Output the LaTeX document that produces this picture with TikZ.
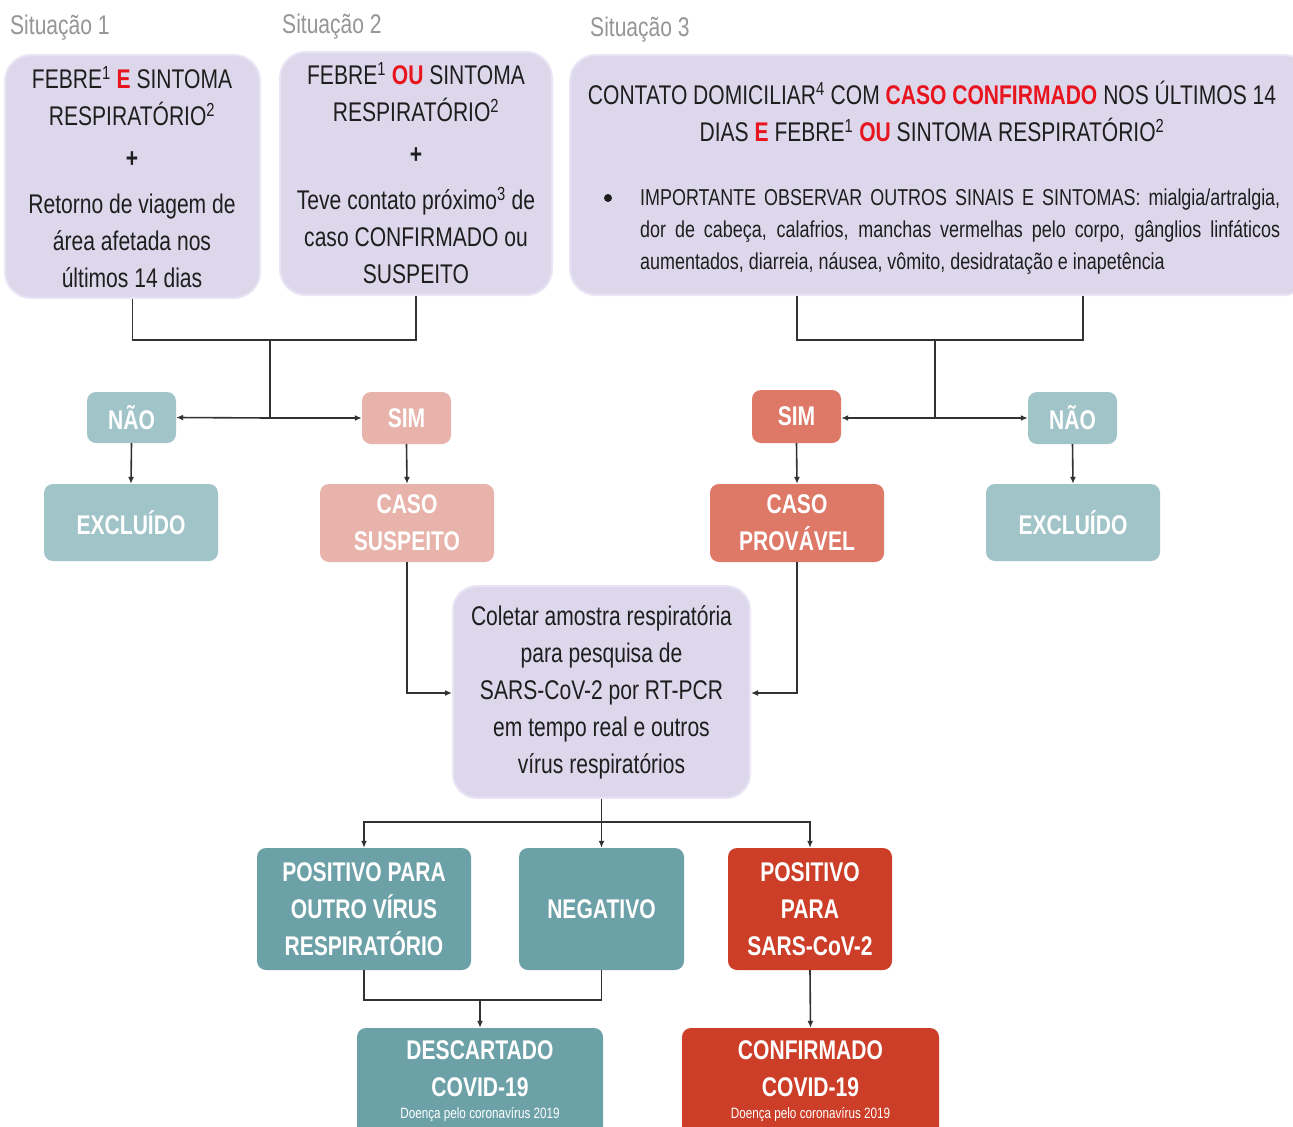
\documentclass[tikz,border=0pt]{standalone}
\usepackage{fontspec}
\setmainfont[FakeStretch=0.78]{Liberation Sans}
\usetikzlibrary{arrows.meta}
\definecolor{lav}{RGB}{221,215,236}
\definecolor{lavedge}{RGB}{233,229,245}
\definecolor{tealL}{RGB}{161,196,201}
\definecolor{tealD}{RGB}{109,161,168}
\definecolor{pinkL}{RGB}{232,179,171}
\definecolor{salmon}{RGB}{222,121,103}
\definecolor{redD}{RGB}{205,62,40}
\definecolor{hl}{RGB}{232,20,30}
\definecolor{ln}{RGB}{50,50,50}
\definecolor{sit}{RGB}{150,150,150}
\definecolor{txt}{RGB}{30,30,30}
\newcommand{\hlt}[1]{{\color{hl}\bfseries #1}}
\begin{document}
\begin{tikzpicture}[x=1pt,y=-1pt,
  lavbox/.style={rectangle,rounded corners=26pt,fill=lav,draw=lavedge,line width=2pt,inner sep=0pt},
  cbox/.style={rectangle,rounded corners=9pt,inner sep=0pt,text=white,align=center,
     font=\fontsize{27}{37}\selectfont\bfseries},
  ltxt/.style={align=center,text=txt,font=\fontsize{27}{37}\selectfont},
  sitlab/.style={text=sit,font=\fontsize{27}{30}\selectfont,anchor=west,inner sep=0pt},
  conn/.style={draw=ln,line width=1.6pt},
  arr/.style={conn,-{Latex[length=7pt,width=6pt]}},
  tinytxt/.style={text=white,font=\fontsize{15}{16}\selectfont}
]
\clip (0,0) rectangle (1293,1127);
\fill[white] (0,0) rectangle (1293,1127);

% labels
\node[sitlab] (s1) at (10,28) {Situação 1};
\node[sitlab] (s2) at (282,27) {Situação 2};
\node[sitlab] (s3) at (590,30) {Situação 3};

% top boxes
\node[lavbox,minimum width=255,minimum height=243] (b1) at (132.5,176.5) {};
\node[ltxt] (b1t) at (132,177) {FEBRE\textsuperscript{1} \hlt{E} SINTOMA\\RESPIRATÓRIO\textsuperscript{2}\\[5pt]{\bfseries +}\\[9pt]Retorno de viagem de\\área afetada nos\\últimos 14 dias};
\node[lavbox,minimum width=272,minimum height=243] (b2) at (416,173.5) {};
\node[ltxt] (b2t) at (416,173) {FEBRE\textsuperscript{1} \hlt{OU} SINTOMA\\RESPIRATÓRIO\textsuperscript{2}\\[5pt]{\bfseries +}\\[9pt]Teve contato próximo\textsuperscript{3} de\\caso CONFIRMADO ou\\SUSPEITO};
\node[lavbox,minimum width=740,minimum height=240] (b3) at (940,175) {};
\node[ltxt] (b3t) at (932,111) {CONTATO DOMICILIAR\textsuperscript{4} COM \hlt{CASO CONFIRMADO} NOS ÚLTIMOS 14\\DIAS \hlt{E} FEBRE\textsuperscript{1} \hlt{OU} SINTOMA RESPIRATÓRIO\textsuperscript{2}};
\fill[txt] (608,198) circle (4pt);
\node[anchor=north west,inner sep=0pt,text width=640pt,align=justify,text=txt,
  font=\fontsize{23}{32}\selectfont] (b3b) at (640,189)
  {IMPORTANTE OBSERVAR OUTROS SINAIS E SINTOMAS: mialgia/artralgia,\linebreak dor de cabeça, calafrios, manchas vermelhas pelo corpo, gânglios linfáticos\linebreak aumentados, diarreia, náusea, vômito, desidratação e inapetência};

% decision boxes left
\node[cbox,fill=tealL,minimum width=89,minimum height=51] (nao1) at (131.5,417.5) {NÃO};
\node[cbox,fill=pinkL,minimum width=89,minimum height=52] (sim1) at (406.5,418) {SIM};
\node[cbox,fill=tealL,minimum width=174,minimum height=77] (exc1) at (131,522.5) {EXCLUÍDO};
\node[cbox,fill=pinkL,minimum width=174,minimum height=78] (susp) at (407,523) {CASO\\SUSPEITO};

% decision boxes right
\node[cbox,fill=salmon,minimum width=89,minimum height=53] (sim2) at (796.5,416.5) {SIM};
\node[cbox,fill=tealL,minimum width=89,minimum height=52] (nao2) at (1072.5,418) {NÃO};
\node[cbox,fill=salmon,minimum width=174,minimum height=78] (prov) at (797,523) {CASO\\PROVÁVEL};
\node[cbox,fill=tealL,minimum width=174,minimum height=77] (exc2) at (1073,522.5) {EXCLUÍDO};

% collect box
\node[lavbox,rounded corners=24pt,minimum width=297,minimum height=212,ltxt] (col) at (601.5,692) {Coletar amostra respiratória\\para pesquisa de\\SARS-CoV-2 por RT-PCR\\em tempo real e outros\\vírus respiratórios};

% results
\node[cbox,fill=tealD,minimum width=214,minimum height=122] (pos1) at (364,909) {POSITIVO PARA\\OUTRO VÍRUS\\RESPIRATÓRIO};
\node[cbox,fill=tealD,minimum width=165,minimum height=122] (neg) at (601.5,909) {NEGATIVO};
\node[cbox,fill=redD,minimum width=164,minimum height=122] (pos2) at (810,909) {POSITIVO\\PARA\\SARS-CoV-2};

% final
\node[cbox,fill=tealD,minimum width=246,minimum height=112] (desc) at (480,1084) {};
\node[cbox] (desct) at (480,1069) {DESCARTADO\\COVID-19};
\node[tinytxt] (descs) at (480,1115) {Doença pelo coronavírus 2019};
\node[cbox,fill=redD,minimum width=257,minimum height=112] (conf) at (810.5,1084) {};
\node[cbox] (conft) at (810.5,1069) {CONFIRMADO\\COVID-19};
\node[tinytxt] (confs) at (810.5,1115) {Doença pelo coronavírus 2019};

% connectors left
\coordinate (j1) at (270,340);
\coordinate (j1b) at (270,418);
\draw[conn] (b1.south) |- (j1) -| (b2.south);
\draw[conn] (j1) -- (j1b);
\draw[arr] (j1b) -- (nao1.east);
\draw[arr] (j1b) -- (sim1.west);
\draw[arr] (nao1.south) -- (exc1.north);
\draw[arr] (sim1.south) -- (susp.north);

% connectors right
\coordinate (j2) at (935,340);
\coordinate (j2b) at (935,418);
\coordinate (b3l) at (797,296);
\coordinate (b3r) at (1083,296);
\draw[conn] (b3l) |- (j2) -| (b3r);
\draw[conn] (j2) -- (j2b);
\draw[arr] (j2b) -- (sim2.east |- j2b);
\draw[arr] (j2b) -- (nao2.west);
\draw[arr] (sim2.south) -- (prov.north);
\draw[arr] (nao2.south) -- (exc2.north);

% to collect
\draw[arr] (susp.south) |- (col.west |- 0,693);
\draw[arr] (prov.south) |- (col.east |- 0,693);

% results connectors
\coordinate (j3) at (601.5,822);
\draw[conn] (col.south) -- (j3);
\draw[arr] (j3) -| (pos1.north);
\draw[arr] (j3) -| (pos2.north);
\draw[arr] (j3) -- (neg.north);

\coordinate (j4) at (480,1000);
\draw[conn] (pos1.south) |- (j4) -| (neg.south);
\draw[arr] (j4) -- (desc.north);
\draw[arr] (pos2.south) -- (conf.north);
\end{tikzpicture}
\end{document}
